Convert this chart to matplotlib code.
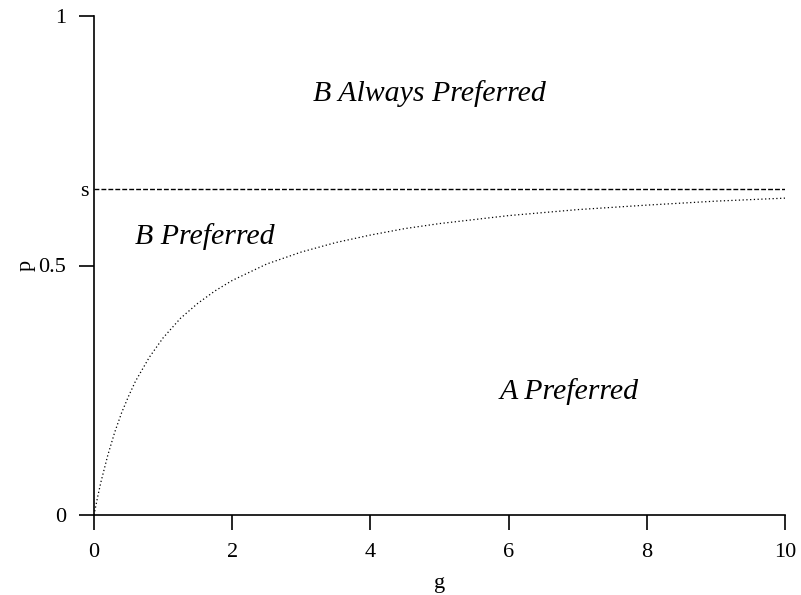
import matplotlib
matplotlib.use("Agg")
import matplotlib.pyplot as plt

# values
g_vals = [0, 0.05, 0.1, 0.2, 0.3, 0.4, 0.5, 0.6, 0.8, 1.0, 1.25, 1.5, 1.75,
          2, 2.5, 3, 3.5, 4, 4.5, 5, 6, 7, 8, 9, 10]
p_vals = [0, 0.0345, 0.066, 0.120, 0.166, 0.205, 0.238, 0.268, 0.316, 0.355,
          0.394, 0.424, 0.449, 0.470, 0.503, 0.527, 0.546, 0.561, 0.574, 0.584,
          0.600, 0.612, 0.621, 0.629, 0.635]
s_level = 0.653
x_ticks = [0, 2, 4, 6, 8, 10]
x_ticklabels = ["0", "2", "4", "6", "8", "10"]
y_ticks = [0, 0.5, 1]
y_ticklabels = ["0", "0.5", "1"]
s_label = "s"
region_labels = ["B Always Preferred", "B Preferred", "A Preferred"]
region_pos = [(4.85, 0.844), (1.61, 0.559), (6.87, 0.248)]

plt.rcParams['font.family'] = ['Liberation Serif', 'DejaVu Serif']

fig = plt.figure(figsize=(8.01, 5.95), dpi=100)
ax = fig.add_axes([94/801, 80/595, (785-94)/801, (515-16)/595])

ax.plot([0, 10], [s_level, s_level], color='black', lw=1.0, linestyle=(0, (3.5, 1.5)))
ax.plot(g_vals, p_vals, color='black', lw=0.9, linestyle=(0, (1, 2)))

for lab, (x, y) in zip(region_labels, region_pos):
    ax.text(x, y, lab, fontsize=21.5, style='italic', ha='center', va='center')

ax.set_xlim(0, 10)
ax.set_ylim(0, 1)
ax.set_xticks(x_ticks)
ax.set_xticklabels(x_ticklabels)
ax.set_yticks(y_ticks)
ax.set_yticklabels(y_ticklabels)
ax.set_yticks([s_level], minor=True)
ax.set_yticklabels([s_label], minor=True)
ax.tick_params(which='major', direction='out', length=11, width=1.2, labelsize=16, pad=9)
ax.tick_params(axis='y', which='minor', length=0, labelsize=16, pad=4)
ax.tick_params(axis='x', which='minor', bottom=False)
for side in ['top', 'right']:
    ax.spines[side].set_visible(False)
for side in ['left', 'bottom']:
    ax.spines[side].set_linewidth(1.2)
ax.set_xlabel("g", fontsize=16, labelpad=9)
ax.set_ylabel("p", fontsize=16, labelpad=2)

fig.savefig("out.png", dpi=100)
